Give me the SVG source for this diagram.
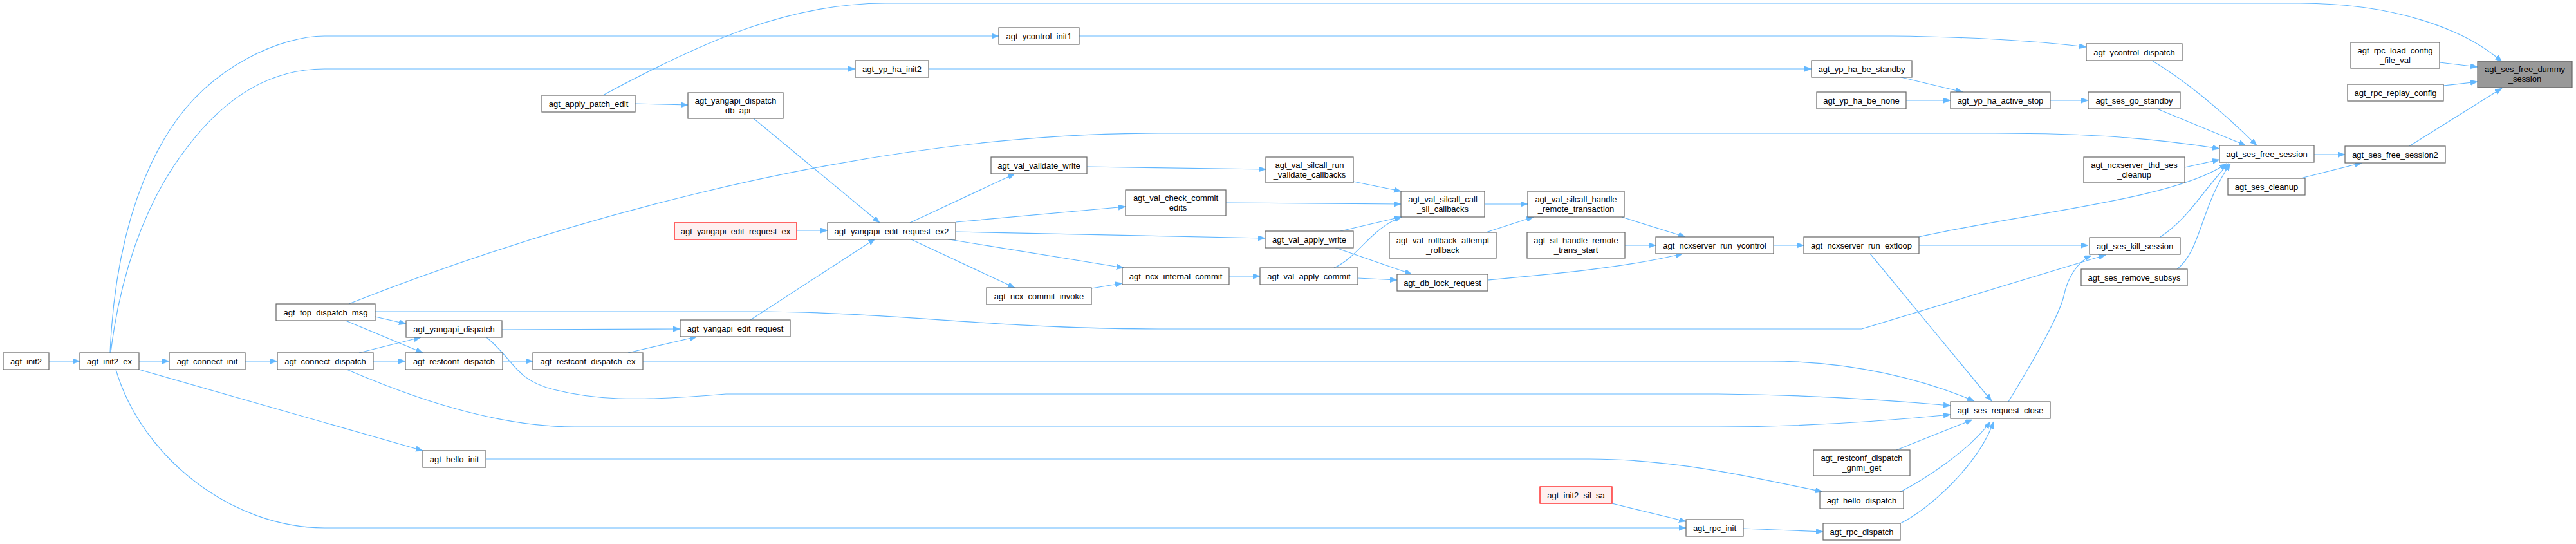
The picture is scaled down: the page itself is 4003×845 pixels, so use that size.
<svg xmlns="http://www.w3.org/2000/svg" width="4003" height="845" viewBox="0 0 4003 845">
<style>
.n rect{fill:#ffffff;stroke:#666666;stroke-width:1.2}
.n text{font-family:"Liberation Sans",Arial,sans-serif;font-size:13px;fill:#000000;text-anchor:middle}
.hl rect{fill:#999999}
.red rect{fill:#fff0f0;stroke:#ff0000}
.e path{fill:none;stroke:#63b8ff;stroke-width:1.2;marker-end:url(#ah)}
</style>
<defs>
<marker id="ah" markerUnits="userSpaceOnUse" markerWidth="12" markerHeight="9" refX="11" refY="4.25" orient="auto">
<path d="M0,0 L11,4.25 L0,8.5 z" fill="#63b8ff" stroke="#63b8ff" stroke-width="0.5"/>
</marker>
</defs>
<rect x="0" y="0" width="4003" height="845" fill="#ffffff"/>
<g id="edges" class="e">
<path d="M76,561 L124,561"/>
<path d="M216,561 L263,561"/>
<path d="M381,561 L431,561"/>
<path d="M171,548 C176,430 200,300 265,200 C330,100 440,56 504,56 L1552,56"/>
<path d="M172,548 C185,440 220,320 290,230 C350,150 420,107 504,107 L1329,107"/>
<path d="M216,574 L657,700"/>
<path d="M180,574 C220,710 360,820 504,820 L2620,820"/>
<path d="M580,561 L630,561"/>
<path d="M558,548 L654,524"/>
<path d="M583,492 L631,503"/>
<path d="M537,498 L657,548"/>
<path d="M781,561 L828,561"/>
<path d="M780,512 L1057,511"/>
<path d="M976,548 L1083,523"/>
<path d="M987,161 L1069,163"/>
<path d="M937,148 C1100,60 1230,5 1376,5 L3574,5 C3720,5 3830,45 3888,96"/>
<path d="M1677,56 L2940,56 C3050,57 3150,62 3242,73"/>
<path d="M1443,107 L2815,107"/>
<path d="M2950,119 L3050,143"/>
<path d="M2962,156 L3031,156"/>
<path d="M3186,156 L3245,156"/>
<path d="M3352,169 L3490,226"/>
<path d="M3344,94 Q3420,140 3507,226"/>
<path d="M3395,260 L3449,248"/>
<path d="M3596,240 L3644,240"/>
<path d="M3575,277 L3670,253"/>
<path d="M3744,227 L3888,137"/>
<path d="M3791,97 L3850,104"/>
<path d="M3797,133 L3850,127"/>
<path d="M542,472 C800,370 1300,207 1800,207 L3100,207 C3250,207 3350,215 3449,231"/>
<path d="M583,484 L1190,484 C1400,486 1550,511 1800,511 L2893,511 L3272,396"/>
<path d="M756,524 C800,560 800,590 860,605 C920,620 980,625 1128,612 L2670,612 C2800,613 2920,620 3031,630"/>
<path d="M539,574 C600,600 750,663 893,663 L2670,663 C2800,663 2920,655 3031,644"/>
<path d="M999,561 L2750,561 C2880,561 2990,590 3068,623"/>
<path d="M755,713 L2470,713 C2600,713 2720,740 2832,764"/>
<path d="M2953,764 C2990,745 3060,700 3093,655"/>
<path d="M2953,813 C3000,790 3075,720 3098,655"/>
<path d="M2947,699 L3065,652"/>
<path d="M2709,821 L2833,826"/>
<path d="M2505,782 L2620,810"/>
<path d="M2906,394 L3095,623"/>
<path d="M2982,381 L3245,381"/>
<path d="M2982,368 C3150,330 3380,310 3460,254"/>
<path d="M3357,368 C3400,340 3420,300 3463,254"/>
<path d="M3383,418 C3420,390 3420,320 3466,254"/>
<path d="M3121,624 C3160,560 3200,490 3207,460 C3213,430 3230,405 3250,397"/>
<path d="M1166,497 L1360,371"/>
<path d="M1238,358 L1286,358"/>
<path d="M1171,184 L1367,346"/>
<path d="M1414,346 L1577,270"/>
<path d="M1485,345 L1749,321"/>
<path d="M1485,360 L1966,370"/>
<path d="M1469,371 L1746,416"/>
<path d="M1414,371 L1577,447"/>
<path d="M1696,448 L1744,440"/>
<path d="M1910,429 L1958,429"/>
<path d="M1689,259 L1967,263"/>
<path d="M1905,315 L2177,317"/>
<path d="M2103,282 L2177,297"/>
<path d="M2083,359 L2177,337"/>
<path d="M2073,416 C2110,400 2130,355 2178,337"/>
<path d="M2073,384 L2194,426"/>
<path d="M2110,432 L2171,435"/>
<path d="M2307,317 L2374,317"/>
<path d="M2309,361 L2383,337"/>
<path d="M2520,337 L2619,368"/>
<path d="M2525,381 L2573,381"/>
<path d="M2312,435 C2420,425 2530,415 2615,394"/>
<path d="M2756,381 L2803,381"/>
</g>
<g id="node_agt_init2" class="n"><rect x="5" y="548" width="71" height="26"/><text x="40.5" y="565.5">agt_init2</text></g>
<g id="node_agt_init2_ex" class="n"><rect x="124" y="548" width="92" height="26"/><text x="170" y="565.5">agt_init2_ex</text></g>
<g id="node_agt_connect_init" class="n"><rect x="263" y="548" width="118" height="26"/><text x="322" y="565.5">agt_connect_init</text></g>
<g id="node_agt_connect_dispatch" class="n"><rect x="431" y="548" width="149" height="26"/><text x="505.5" y="565.5">agt_connect_dispatch</text></g>
<g id="node_agt_top_dispatch_msg" class="n"><rect x="429" y="472" width="154" height="26"/><text x="506" y="489.5">agt_top_dispatch_msg</text></g>
<g id="node_agt_yangapi_dispatch" class="n"><rect x="631" y="498" width="149" height="26"/><text x="705.5" y="515.5">agt_yangapi_dispatch</text></g>
<g id="node_agt_restconf_dispatch" class="n"><rect x="630" y="548" width="151" height="26"/><text x="705.5" y="565.5">agt_restconf_dispatch</text></g>
<g id="node_agt_restconf_dispatch_ex" class="n"><rect x="828" y="548" width="171" height="26"/><text x="913.5" y="565.5">agt_restconf_dispatch_ex</text></g>
<g id="node_agt_hello_init" class="n"><rect x="657" y="700" width="98" height="26"/><text x="706" y="717.5">agt_hello_init</text></g>
<g id="node_agt_apply_patch_edit" class="n"><rect x="842" y="148" width="145" height="26"/><text x="914.5" y="165.5">agt_apply_patch_edit</text></g>
<g id="node_agt_ycontrol_init1" class="n"><rect x="1552" y="43" width="125" height="26"/><text x="1614.5" y="60.5">agt_ycontrol_init1</text></g>
<g id="node_agt_yp_ha_init2" class="n"><rect x="1329" y="94" width="114" height="26"/><text x="1386" y="111.5">agt_yp_ha_init2</text></g>
<g id="node_agt_yangapi_dispatch_db_api" class="n"><rect x="1069" y="144" width="148" height="40"/><text x="1143" y="160.5">agt_yangapi_dispatch</text><text x="1143" y="175.5">_db_api</text></g>
<g id="node_agt_yangapi_edit_request_ex" class="n red"><rect x="1048" y="346" width="190" height="26"/><text x="1143" y="363.5">agt_yangapi_edit_request_ex</text></g>
<g id="node_agt_yangapi_edit_request_ex2" class="n"><rect x="1286" y="346" width="199" height="26"/><text x="1385.5" y="363.5">agt_yangapi_edit_request_ex2</text></g>
<g id="node_agt_yangapi_edit_request" class="n"><rect x="1057" y="497" width="171" height="26"/><text x="1142.5" y="514.5">agt_yangapi_edit_request</text></g>
<g id="node_agt_val_validate_write" class="n"><rect x="1540" y="244" width="149" height="26"/><text x="1614.5" y="261.5">agt_val_validate_write</text></g>
<g id="node_agt_val_check_commit_edits" class="n"><rect x="1749" y="295" width="156" height="40"/><text x="1827" y="311.5">agt_val_check_commit</text><text x="1827" y="326.5">_edits</text></g>
<g id="node_agt_ncx_commit_invoke" class="n"><rect x="1533" y="447" width="163" height="26"/><text x="1614.5" y="464.5">agt_ncx_commit_invoke</text></g>
<g id="node_agt_ncx_internal_commit" class="n"><rect x="1744" y="416" width="166" height="26"/><text x="1827" y="433.5">agt_ncx_internal_commit</text></g>
<g id="node_agt_val_silcall_run_validate_callbacks" class="n"><rect x="1967" y="244" width="136" height="40"/><text x="2035" y="260.5">agt_val_silcall_run</text><text x="2035" y="275.5">_validate_callbacks</text></g>
<g id="node_agt_val_apply_write" class="n"><rect x="1966" y="359" width="137" height="26"/><text x="2034.5" y="376.5">agt_val_apply_write</text></g>
<g id="node_agt_val_apply_commit" class="n"><rect x="1958" y="416" width="152" height="26"/><text x="2034" y="433.5">agt_val_apply_commit</text></g>
<g id="node_agt_val_silcall_call_sil_callbacks" class="n"><rect x="2177" y="297" width="130" height="40"/><text x="2242" y="313.5">agt_val_silcall_call</text><text x="2242" y="328.5">_sil_callbacks</text></g>
<g id="node_agt_val_silcall_handle_remote_transaction" class="n"><rect x="2374" y="297" width="150" height="40"/><text x="2449" y="313.5">agt_val_silcall_handle</text><text x="2449" y="328.5">_remote_transaction</text></g>
<g id="node_agt_val_rollback_attempt_rollback" class="n"><rect x="2159" y="361" width="166" height="40"/><text x="2242" y="377.5">agt_val_rollback_attempt</text><text x="2242" y="392.5">_rollback</text></g>
<g id="node_agt_sil_handle_remote_trans_start" class="n"><rect x="2373" y="361" width="152" height="40"/><text x="2449" y="377.5">agt_sil_handle_remote</text><text x="2449" y="392.5">_trans_start</text></g>
<g id="node_agt_db_lock_request" class="n"><rect x="2171" y="426" width="141" height="26"/><text x="2241.5" y="443.5">agt_db_lock_request</text></g>
<g id="node_agt_ncxserver_run_ycontrol" class="n"><rect x="2573" y="368" width="183" height="26"/><text x="2664.5" y="385.5">agt_ncxserver_run_ycontrol</text></g>
<g id="node_agt_ncxserver_run_extloop" class="n"><rect x="2803" y="368" width="179" height="26"/><text x="2892.5" y="385.5">agt_ncxserver_run_extloop</text></g>
<g id="node_agt_yp_ha_be_standby" class="n"><rect x="2815" y="94" width="156" height="26"/><text x="2893" y="111.5">agt_yp_ha_be_standby</text></g>
<g id="node_agt_yp_ha_be_none" class="n"><rect x="2823" y="143" width="139" height="26"/><text x="2892.5" y="160.5">agt_yp_ha_be_none</text></g>
<g id="node_agt_restconf_dispatch_gnmi_get" class="n"><rect x="2818" y="699" width="150" height="40"/><text x="2893" y="715.5">agt_restconf_dispatch</text><text x="2893" y="730.5">_gnmi_get</text></g>
<g id="node_agt_hello_dispatch" class="n"><rect x="2828" y="764" width="130" height="26"/><text x="2893" y="781.5">agt_hello_dispatch</text></g>
<g id="node_agt_init2_sil_sa" class="n red"><rect x="2393" y="756" width="112" height="26"/><text x="2449" y="773.5">agt_init2_sil_sa</text></g>
<g id="node_agt_rpc_init" class="n"><rect x="2620" y="807" width="89" height="26"/><text x="2664.5" y="824.5">agt_rpc_init</text></g>
<g id="node_agt_rpc_dispatch" class="n"><rect x="2833" y="813" width="120" height="26"/><text x="2893" y="830.5">agt_rpc_dispatch</text></g>
<g id="node_agt_ycontrol_dispatch" class="n"><rect x="3242" y="68" width="149" height="26"/><text x="3316.5" y="85.5">agt_ycontrol_dispatch</text></g>
<g id="node_agt_yp_ha_active_stop" class="n"><rect x="3031" y="143" width="155" height="26"/><text x="3108.5" y="160.5">agt_yp_ha_active_stop</text></g>
<g id="node_agt_ses_go_standby" class="n"><rect x="3245" y="143" width="143" height="26"/><text x="3316.5" y="160.5">agt_ses_go_standby</text></g>
<g id="node_agt_ses_free_session" class="n"><rect x="3449" y="226" width="147" height="26"/><text x="3522.5" y="243.5">agt_ses_free_session</text></g>
<g id="node_agt_ncxserver_thd_ses_cleanup" class="n"><rect x="3238" y="244" width="157" height="40"/><text x="3316.5" y="260.5">agt_ncxserver_thd_ses</text><text x="3316.5" y="275.5">_cleanup</text></g>
<g id="node_agt_ses_kill_session" class="n"><rect x="3247" y="369" width="141" height="26"/><text x="3317.5" y="386.5">agt_ses_kill_session</text></g>
<g id="node_agt_ses_remove_subsys" class="n"><rect x="3234" y="418" width="165" height="26"/><text x="3316.5" y="435.5">agt_ses_remove_subsys</text></g>
<g id="node_agt_ses_cleanup" class="n"><rect x="3462" y="277" width="120" height="26"/><text x="3522" y="294.5">agt_ses_cleanup</text></g>
<g id="node_agt_ses_free_session2" class="n"><rect x="3644" y="227" width="156" height="26"/><text x="3722" y="244.5">agt_ses_free_session2</text></g>
<g id="node_agt_rpc_load_config_file_val" class="n"><rect x="3653" y="66" width="138" height="40"/><text x="3722" y="82.5">agt_rpc_load_config</text><text x="3722" y="97.5">_file_val</text></g>
<g id="node_agt_rpc_replay_config" class="n"><rect x="3648" y="131" width="149" height="26"/><text x="3722.5" y="148.5">agt_rpc_replay_config</text></g>
<g id="node_agt_ses_free_dummy_session" class="n hl"><rect x="3850" y="95" width="147" height="41"/><text x="3923.5" y="112">agt_ses_free_dummy</text><text x="3923.5" y="127">_session</text></g>
<g id="node_agt_ses_request_close" class="n"><rect x="3031" y="624" width="155" height="26"/><text x="3108.5" y="641.5">agt_ses_request_close</text></g>
</svg>
